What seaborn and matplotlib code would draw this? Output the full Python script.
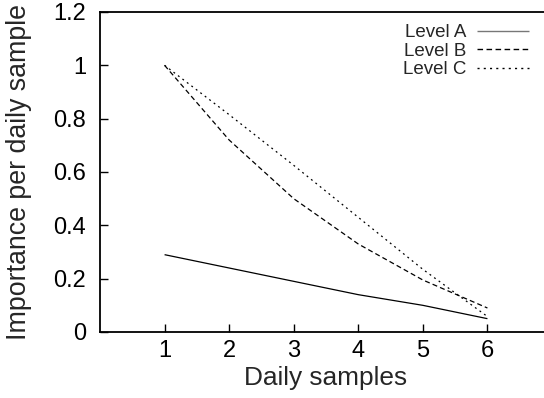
import matplotlib
matplotlib.use("Agg")
import matplotlib.pyplot as plt
import seaborn as sns
import pandas as pd

days = [1, 2, 3, 4, 5, 6]
level_a = [0.29, 0.24, 0.19, 0.14, 0.10, 0.05]
level_b = [1.0, 0.72, 0.50, 0.33, 0.195, 0.09]
level_c = [1.0, 0.815, 0.625, 0.43, 0.235, 0.058]
series_names = ["Level A", "Level B", "Level C"]
x_ticks = [1, 2, 3, 4, 5, 6]
y_ticks = [0, 0.2, 0.4, 0.6, 0.8, 1.0, 1.2]
y_tick_labels = ["0", "0.2", "0.4", "0.6", "0.8", "1", "1.2"]

df = pd.DataFrame({
    "day": days * 3,
    "value": level_a + level_b + level_c,
    "series": [series_names[0]] * 6 + [series_names[1]] * 6 + [series_names[2]] * 6,
})

sns.set_theme(style="white")
plt.rcParams["font.family"] = ["Liberation Sans", "DejaVu Sans"]

fig = plt.figure(figsize=(5.44, 3.98), dpi=100)
ax = fig.add_axes([100 / 544, 1 - 332 / 398, 452 / 544, 320 / 398])

styles = {"Level A": (0, ()), "Level B": (0, (4, 2.5)), "Level C": (0, (1.5, 3))}
for name in series_names:
    sub = df[df["series"] == name]
    sns.lineplot(data=sub, x="day", y="value", ax=ax, color="black",
                 linewidth=0.9, linestyle=styles[name], label=name,
                 estimator=None, sort=False)

ax.set_xlim(0, 7)
ax.set_ylim(0, 1.2)
ax.set_xticks(x_ticks)
ax.set_xticklabels([str(t) for t in x_ticks])
ax.set_yticks(y_ticks)
ax.set_yticklabels(y_tick_labels)
ax.set_xlabel("Daily samples", fontsize=18.9, labelpad=3)
ax.set_ylabel("Importance per daily sample", fontsize=19.3, labelpad=15)
ax.tick_params(axis="both", direction="in", length=6, width=1.0,
               labelsize=17, color="black", labelcolor="black", pad=6)
ax.tick_params(axis="y", right=True, left=True, pad=10)
ax.tick_params(axis="x", bottom=True, top=False)
for s in ax.spines.values():
    s.set_color("black")
    s.set_linewidth(1.3)

leg = ax.legend(loc="upper right", bbox_to_anchor=(529 / 544, 1 - 24 / 398),
                bbox_transform=fig.transFigure, frameon=False, markerfirst=False,
                fontsize=13.5, handlelength=2.75, handletextpad=0.6,
                labelspacing=0.08, borderaxespad=0, borderpad=0)
for h in leg.get_lines():
    h.set_linewidth(1.0)
leg.get_lines()[0].set_color("#777777")

fig.savefig("out.png", dpi=100)
